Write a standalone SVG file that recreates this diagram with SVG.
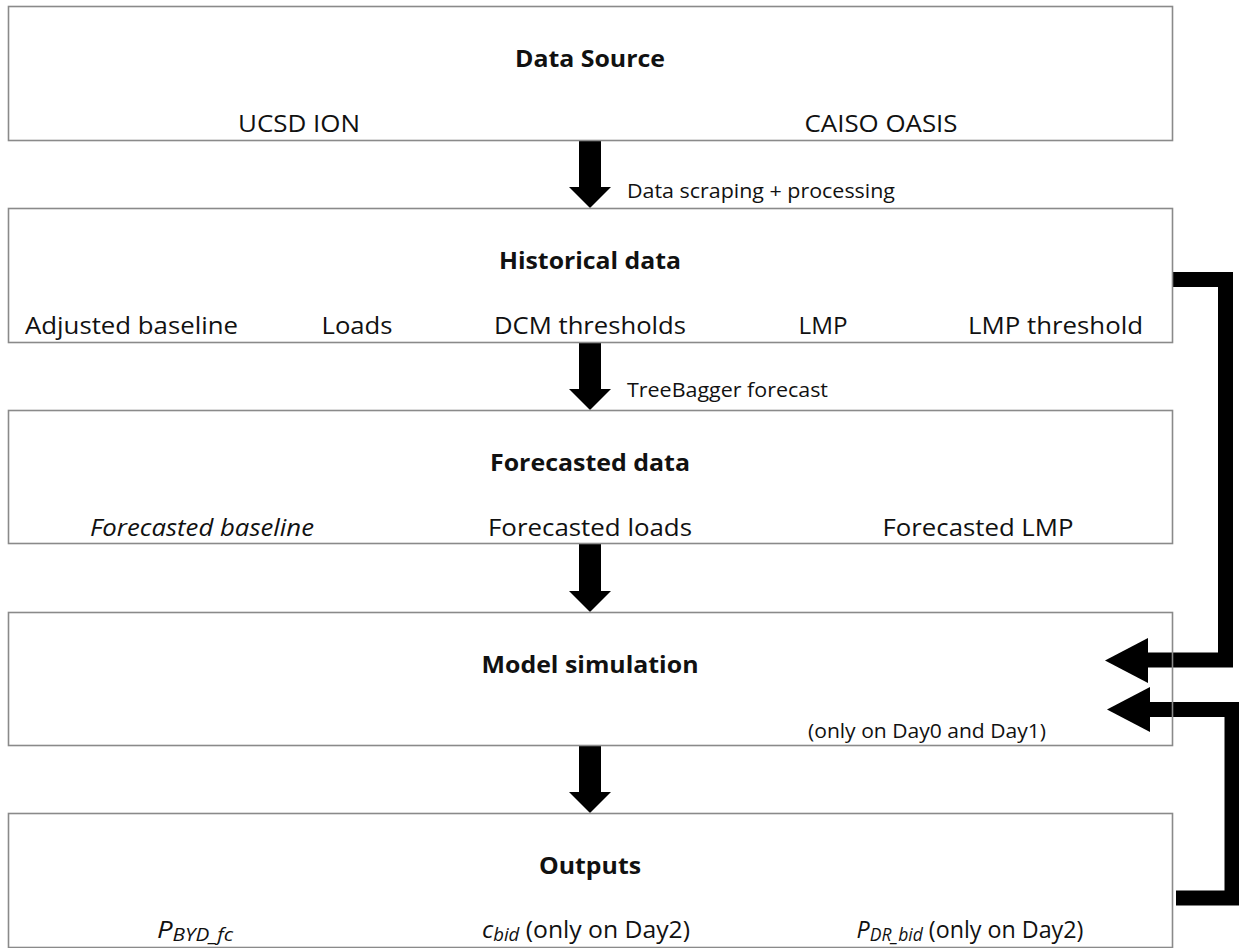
<svg xmlns="http://www.w3.org/2000/svg" width="1239" height="948" viewBox="0 0 1239 948">
<style>
.box{fill:none;stroke:#8a8a8a;stroke-width:1.6}
.t{font-family:"Open Sans","Liberation Sans",sans-serif;font-size:24px;fill:#111;text-anchor:middle}
.b{font-weight:bold;font-size:23px}
.i{font-style:italic}
.s{font-family:"Open Sans","Liberation Sans",sans-serif;font-size:20px;fill:#111}
.sub{font-size:18px}
.arr{fill:#000}
.fb{fill:none;stroke:#000;stroke-linejoin:miter}
</style>
<rect width="1239" height="948" fill="#fff"/>
<g id="connectors">
  <polygon class="arr" points="579,140 601,140 601,187 611,187 590,208 569,187 579,187"/>
  <polygon class="arr" points="579,342 601,342 601,389 611,389 590,410 569,389 579,389"/>
  <polygon class="arr" points="579,543 601,543 601,591 611,591 590,612 569,591 579,591"/>
  <polygon class="arr" points="579,745 601,745 601,792 611,792 590,813 569,792 579,792"/>
  <path class="fb" stroke-width="15" d="M1172,279.5 H1225.5 V660 H1146"/>
  <polygon class="arr" points="1148,638 1148,683 1105,660.5"/>
  <path class="fb" stroke-width="15" d="M1176,898 H1232 V709.5 H1148"/>
  <polygon class="arr" points="1150,687 1150,732 1107,709.5"/>
  <text class="s" x="627" y="198" textLength="268" lengthAdjust="spacingAndGlyphs">Data scraping + processing</text>
  <text class="s" x="627" y="397" textLength="201" lengthAdjust="spacingAndGlyphs">TreeBagger forecast</text>
</g>
<g id="data-source">
  <rect class="box" x="8.5" y="6.5" width="1164" height="134"/>
  <text class="t b" x="590" y="67" textLength="150" lengthAdjust="spacingAndGlyphs">Data Source</text>
  <text class="t" x="299" y="132" textLength="122" lengthAdjust="spacingAndGlyphs">UCSD ION</text>
  <text class="t" x="881" y="132" textLength="153" lengthAdjust="spacingAndGlyphs">CAISO OASIS</text>
</g>
<g id="historical-data">
  <rect class="box" x="8.5" y="208.5" width="1164" height="134"/>
  <text class="t b" x="590" y="269" textLength="182" lengthAdjust="spacingAndGlyphs">Historical data</text>
  <text class="t" x="131.5" y="334" textLength="213" lengthAdjust="spacingAndGlyphs">Adjusted baseline</text>
  <text class="t" x="357" y="334" textLength="71" lengthAdjust="spacingAndGlyphs">Loads</text>
  <text class="t" x="590" y="334" textLength="192" lengthAdjust="spacingAndGlyphs">DCM thresholds</text>
  <text class="t" x="823" y="334" textLength="49" lengthAdjust="spacingAndGlyphs">LMP</text>
  <text class="t" x="1055.5" y="334" textLength="175" lengthAdjust="spacingAndGlyphs">LMP threshold</text>
</g>
<g id="forecasted-data">
  <rect class="box" x="8.5" y="410.5" width="1164" height="133"/>
  <text class="t b" x="590" y="471" textLength="200" lengthAdjust="spacingAndGlyphs">Forecasted data</text>
  <text class="t i" x="202" y="536" textLength="224" lengthAdjust="spacingAndGlyphs">Forecasted baseline</text>
  <text class="t" x="590" y="536" textLength="204" lengthAdjust="spacingAndGlyphs">Forecasted loads</text>
  <text class="t" x="978" y="536" textLength="191" lengthAdjust="spacingAndGlyphs">Forecasted LMP</text>
</g>
<g id="model-simulation">
  <rect class="box" x="8.5" y="612.5" width="1164" height="133"/>
  <text class="t b" x="590" y="673" textLength="217" lengthAdjust="spacingAndGlyphs">Model simulation</text>
  <text class="s" x="808" y="738" textLength="238" lengthAdjust="spacingAndGlyphs">(only on Day0 and Day1)</text>
</g>
<g id="outputs">
  <rect class="box" x="8.5" y="813.5" width="1164" height="134"/>
  <text class="t b" x="590" y="874" textLength="102" lengthAdjust="spacingAndGlyphs">Outputs</text>
  <text class="t" transform="translate(195,938) scale(1.15,1)"><tspan class="i">P</tspan><tspan class="i sub" dy="3">BYD_fc</tspan></text>
  <text class="t" transform="translate(586,938) scale(1.03,1)"><tspan class="i">c</tspan><tspan class="i sub" dy="3">bid</tspan><tspan dy="-3"> (only on Day2)</tspan></text>
  <text class="t" transform="translate(970,938) scale(0.97,1)"><tspan class="i">P</tspan><tspan class="i sub" dy="3">DR_bid</tspan><tspan dy="-3"> (only on Day2)</tspan></text>
</g>
</svg>
